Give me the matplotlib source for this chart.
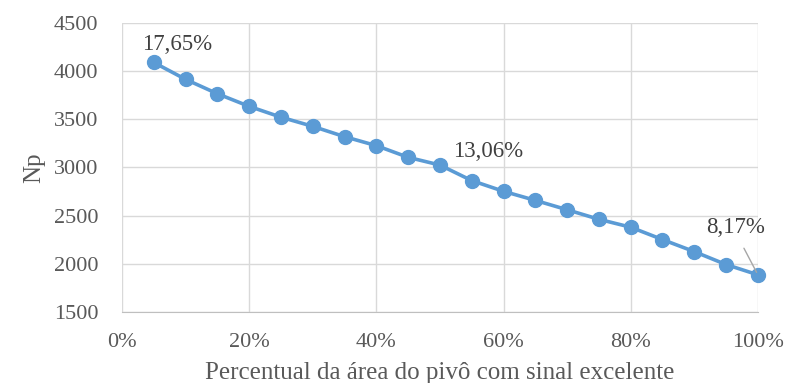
import matplotlib
matplotlib.use("Agg")
import matplotlib.pyplot as plt
from matplotlib.ticker import FuncFormatter

plt.rcParams["font.family"] = ["Liberation Serif", "DejaVu Serif"]

# percent of pivot area with excellent signal
area_pct = [5, 10, 15, 20, 25, 30, 35, 40, 45, 50,
            55, 60, 65, 70, 75, 80, 85, 90, 95, 100]
# Np values
np_vals = [4087, 3912, 3763, 3632, 3520, 3425, 3318, 3225, 3104, 3024,
           2863, 2752, 2658, 2561, 2462, 2380, 2252, 2127, 1993, 1887]
# labelled points: (x, label, offset in points)
labels = [(5, "17,65%", (17, 13)), (50, "13,06%", (35, 10)), (100, "8,17%", (-16, 34))]

grey = "#595959"
blue = "#5B9BD5"

fig = plt.figure(figsize=(7.87, 3.83), dpi=100)
ax = fig.add_axes([0.155, 0.185, 0.808, 0.756])

ax.plot(area_pct, np_vals, color=blue, lw=2.6, marker="o", ms=10, zorder=3, clip_on=False)

for xv, txt, off in labels:
    yv = np_vals[area_pct.index(xv)]
    arrow = None
    if xv == 100:
        arrow = dict(arrowstyle="-", color="#A6A6A6", lw=1, shrinkA=6, shrinkB=2,
                     relpos=(0.55, 0.0))
    ax.annotate(txt, (xv, yv), xytext=off, textcoords="offset points",
                ha="center", va="center", fontsize=16.5, color="#404040",
                arrowprops=arrow)

ax.set_xlim(0, 100)
ax.set_ylim(1500, 4500)
ax.set_xticks(range(0, 101, 20))
ax.set_yticks(range(1500, 4501, 500))
ax.xaxis.set_major_formatter(FuncFormatter(lambda v, p: f"{v:.0f}%"))
ax.grid(True, color="#D9D9D9", lw=1)
ax.set_axisbelow(True)
for s in ax.spines.values():
    s.set_visible(False)
ax.spines["bottom"].set_visible(True)
ax.spines["bottom"].set_color("#BFBFBF")
ax.tick_params(length=0, labelsize=16, colors=grey, pad=15)
ax.tick_params(axis="y", pad=17)

ax.set_xlabel("Percentual da área do pivô com sinal excelente", fontsize=18, color=grey, labelpad=7)
ax.set_ylabel("Np", fontsize=18, color=grey, labelpad=6)

fig.savefig("out.png", dpi=100)
